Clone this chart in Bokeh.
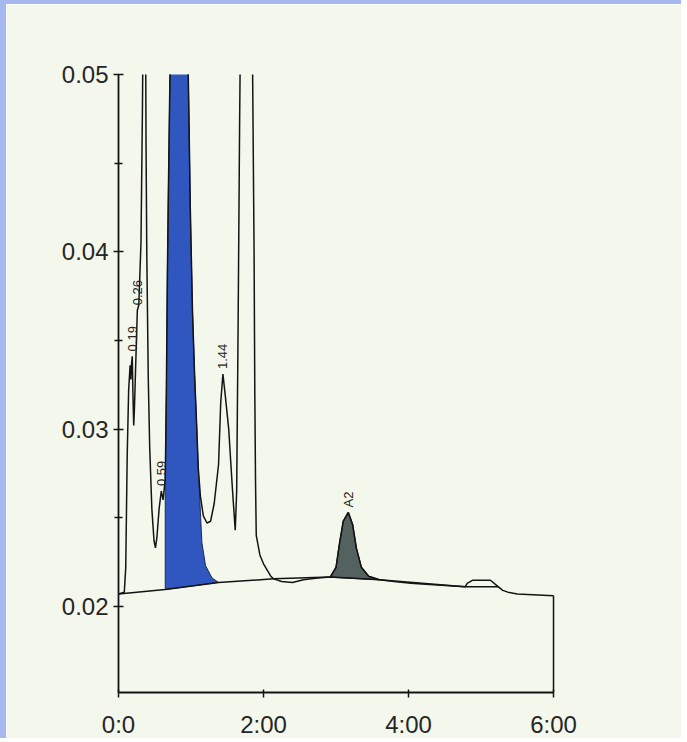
import math

from bokeh.core.properties import value
from bokeh.embed import file_html
from bokeh.models import ColumnDataSource, FixedTicker
from bokeh.plotting import figure
from bokeh.resources import INLINE

# Detector trace: retention time (min) and absorbance
trace_time = [
    0.00, 0.08, 0.10, 0.12, 0.14, 0.16, 0.17, 0.18, 0.19, 0.20, 0.21, 0.22,
    0.24, 0.26, 0.28, 0.31, 0.33, 0.35, 0.37, 0.38, 0.39, 0.41, 0.43, 0.46,
    0.49, 0.51, 0.53, 0.56, 0.59, 0.615, 0.645, 0.66, 0.675, 0.69, 0.71, 0.76,
    0.83, 0.90, 0.95, 0.97, 0.99, 1.02, 1.05, 1.08, 1.10, 1.13, 1.17, 1.22,
    1.27, 1.32, 1.38, 1.41, 1.44, 1.47, 1.52, 1.57, 1.61, 1.63, 1.65, 1.67,
    1.69, 1.77, 1.83, 1.85, 1.87, 1.88, 1.89, 1.90, 1.95, 2.00, 2.10, 2.14,
    2.25, 2.40, 2.55, 2.75, 2.92, 3.00, 3.05, 3.10, 3.17, 3.23, 3.28, 3.35,
    3.45, 3.60, 3.80, 4.03, 4.40, 4.78, 4.81, 4.88, 5.13, 5.24, 5.30, 5.37,
    5.50, 6.00,
]
trace_abs = [
    0.0207, 0.0208, 0.0222, 0.0285, 0.0322, 0.0336, 0.0328, 0.0337, 0.0341, 0.0318, 0.0302, 0.0312,
    0.0340, 0.0367, 0.0370, 0.0405, 0.0480, 0.0580, 0.0560, 0.0460, 0.0400, 0.0330, 0.0290, 0.0255,
    0.0237, 0.0233, 0.0239, 0.0255, 0.0265, 0.0260, 0.0272, 0.0320, 0.0390, 0.0440, 0.0500, 0.0620,
    0.0660, 0.0610, 0.0530, 0.0480, 0.0425, 0.0367, 0.0330, 0.0300, 0.0278, 0.0262, 0.0251, 0.0247,
    0.0248, 0.0258, 0.0280, 0.0315, 0.0331, 0.0320, 0.0300, 0.0267, 0.0243, 0.0265, 0.0360, 0.0470,
    0.0560, 0.0700, 0.0620, 0.0500, 0.0400, 0.0320, 0.0270, 0.0240, 0.0229, 0.0224, 0.0217, 0.02155,
    0.0214, 0.02135, 0.0215, 0.0216, 0.02165, 0.0222, 0.0236, 0.0248, 0.0253, 0.0246, 0.0233, 0.0222,
    0.0217, 0.0215, 0.0214, 0.0213, 0.0212, 0.0211, 0.0213, 0.02147, 0.02147, 0.0211, 0.0209, 0.0208,
    0.0207, 0.0206,
]

# Integration baseline drawn under the peaks
base_time = [0.0, 0.645, 1.38, 2.14, 2.92, 3.60, 4.78, 5.24]
base_abs = [0.0207, 0.02095, 0.02135, 0.02155, 0.02165, 0.0215, 0.0211, 0.0211]

# Tail of the shaded main peak where it leaves the trace
blue_tail_time = [1.15, 1.20, 1.29, 1.38]
blue_tail_abs = [0.0236, 0.0223, 0.0216, 0.02135]
blue_start, blue_end_on_trace = 0.645, 1.10

# Shaded A2 peak window
a2_start, a2_end = 2.92, 3.60

# Labelled peaks
peak_times = [0.19, 0.26, 0.59, 1.44]
peak_abs = [0.0341, 0.0367, 0.0265, 0.0331]
a2_time = 3.17
a2_abs = 0.0253

# Axis ticks
x_ticks = [0, 2, 4, 6]
x_tick_labels = ["0:0", "2:00", "4:00", "6:00"]
y_ticks = [0.02, 0.03, 0.04, 0.05]
y_minor = [0.025, 0.035, 0.045]

y_lo, y_hi = 0.01514, 0.05
x_lo, x_hi = 0.0, 6.648

paper = "#f4f7ec"
edge = "#a5b9ef"
ink = "#141414"
label_ink = "#262626"
font = "Liberation Sans"

p = figure(
    width=681, height=738,
    x_range=(x_lo, x_hi), y_range=(y_lo, y_hi),
    output_backend="svg", toolbar_location=None,
    min_border_left=112, min_border_right=87,
    min_border_top=70, min_border_bottom=50,
    background_fill_color=paper, border_fill_color=paper,
    outline_line_color=None,
)
p.grid.visible = False
# blue page edge along the top and left of the sheet
p.styles = {"border-left": f"6px solid {edge}", "border-top": f"4px solid {edge}"}

# Shaded main peak: drop line, trace, skimmed tail, baseline back
blue_xs = [blue_start] + [t for t in trace_time if blue_start <= t <= blue_end_on_trace] + blue_tail_time
blue_ys = [base_abs[1]] + [a for t, a in zip(trace_time, trace_abs) if blue_start <= t <= blue_end_on_trace] + blue_tail_abs
p.patch(blue_xs, blue_ys, fill_color="#2f57bf", line_color="#1b2b55", line_width=1.0)

# Shaded A2 peak, closed along the baseline
a2_xs = [t for t in trace_time if a2_start <= t <= a2_end]
a2_ys = [a for t, a in zip(trace_time, trace_abs) if a2_start <= t <= a2_end]
p.patch(a2_xs, a2_ys, fill_color="#53625e", line_color=ink, line_width=1.2)

# Baseline and trace
p.line(base_time, base_abs, line_color=ink, line_width=1.5)
p.line(trace_time, trace_abs, line_color=ink, line_width=1.5)
p.segment(x0=[trace_time[-1]], y0=[trace_abs[-1]], x1=[trace_time[-1]], y1=[y_lo],
          line_color=ink, line_width=1.5)

# Retention-time labels above the peaks
src = ColumnDataSource(dict(x=peak_times, y=peak_abs, txt=[f"{t:.2f}" for t in peak_times]))
p.text("x", "y", text="txt", source=src, angle=math.pi / 2, y_offset=-5,
       text_align="left", text_baseline="middle", text_font=value(font),
       text_font_size="13px", text_color=label_ink)
p.text([a2_time], [a2_abs], text=["A2"], angle=math.pi / 2, y_offset=-5,
       text_align="left", text_baseline="middle", text_font=value(font),
       text_font_size="13px", text_color=label_ink)

# Axes
xa = p.xaxis[0]
xa.ticker = FixedTicker(ticks=x_ticks)
xa.major_label_overrides = dict(zip(x_ticks, x_tick_labels))
xa.bounds = (x_ticks[0], x_ticks[-1])
xa.axis_line_color = ink
xa.axis_line_width = 1.8
xa.major_tick_line_color = ink
xa.major_tick_line_width = 1.5
xa.major_tick_in = 3
xa.major_tick_out = 5
xa.minor_tick_line_color = None
xa.major_label_standoff = 13
xa.major_label_text_font = font
xa.major_label_text_font_size = "24px"
xa.major_label_text_color = label_ink

ya = p.yaxis[0]
ya.ticker = FixedTicker(ticks=y_ticks, minor_ticks=y_minor)
ya.bounds = (y_lo, y_hi)
ya.axis_line_color = ink
ya.axis_line_width = 1.8
ya.major_tick_line_color = ink
ya.major_tick_line_width = 1.5
ya.major_tick_in = 5
ya.major_tick_out = 5
ya.minor_tick_line_color = ink
ya.minor_tick_line_width = 1.5
ya.minor_tick_in = 4
ya.minor_tick_out = 4
ya.major_label_standoff = 5
ya.major_label_text_font = font
ya.major_label_text_font_size = "24px"
ya.major_label_text_color = label_ink

open("out.html", "w").write(file_html(p, INLINE))
